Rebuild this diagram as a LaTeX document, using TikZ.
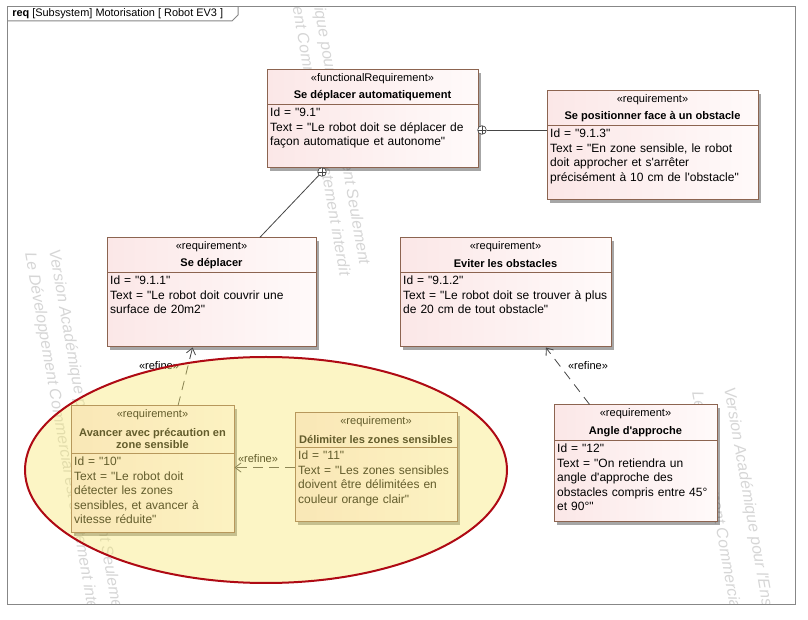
\documentclass[tikz,border=0pt]{standalone}
\usepackage{fontspec}
\setmainfont{Liberation Sans}[Ligatures=TeXOff]
\usetikzlibrary{shadows,arrows.meta,calc}
\definecolor{reqborder}{RGB}{140,100,80}
\definecolor{reqa}{RGB}{251,231,231}
\definecolor{reqb}{RGB}{255,250,250}
\definecolor{ellred}{RGB}{175,10,20}
\definecolor{ellfill}{RGB}{248,232,110}
\definecolor{wmark}{RGB}{214,214,214}
\definecolor{framegray}{RGB}{135,135,135}
\definecolor{linegray}{RGB}{70,70,70}
\tikzset{
 reqbox/.style={draw=reqborder, line width=0.75pt, left color=reqa, right color=reqb,
   drop shadow={shadow xshift=2.2pt, shadow yshift=-2.2pt, fill=black, opacity=0.35}, inner sep=0pt},
 stereo/.style={font=\fontsize{8.3}{9.5}\selectfont, inner sep=0pt},
 reqtitle/.style={font=\bfseries\fontsize{8.3}{9}\selectfont, inner sep=0pt, align=center},
 reqbody/.style={font=\fontsize{9}{10.9}\selectfont, anchor=north west, align=left, inner xsep=2.2pt, inner ysep=2pt},
 contain/.style={circle, draw=linegray, fill=white, line width=0.5pt, minimum size=6.5pt, inner sep=0pt,
   path picture={\draw[linegray, line width=0.5pt] (path picture bounding box.north) -- (path picture bounding box.south) (path picture bounding box.west) -- (path picture bounding box.east);}},
 assoc/.style={draw=linegray, line width=0.6pt},
 refine/.style={draw=linegray, line width=0.6pt, dash pattern=on 7pt off 5pt, -{Straight Barb[length=4.5pt,width=7pt]}},
 lbl/.style={font=\fontsize{8.3}{9.5}\selectfont, inner sep=0pt},
 wm/.style={font=\itshape\fontsize{12}{14}\selectfont, text=wmark, rotate=-80, inner sep=0pt, anchor=base west},
 frame/.style={draw=framegray, line width=0.75pt},
 ellzone/.style={draw=ellred, line width=1.5pt, fill=ellfill, fill opacity=0.4},
}
\newcommand{\reqbox}[9]{%
 \node[reqbox, minimum width={(#4-#2)*0.75pt}, minimum height={(#5-#3)*0.75pt}] (#1) at ({(#2+#4)/2},{(#3+#5)/2}) {};
 \draw[reqborder, line width=0.75pt] (#2,#6) -- (#4,#6);
 \node[stereo] (#1-s) at ({(#2+#4)/2},{#3+9}) {«#7»};
 \node[reqtitle] (#1-t) at ({(#2+#4)/2},{(#3+17+#6)/2}) {#8};
 \node[reqbody, text width={(#4-#2-6)*0.75pt}] (#1-b) at (#2,#6) {#9};
}
\begin{document}
\begin{tikzpicture}[x=0.75pt,y=-0.75pt]
\useasboundingbox (0,0) rectangle (808,620);
\fill[white] (0,0) rectangle (808,620);
% watermark
\begin{scope}
\clip (7,7) rectangle (795,605);
\node[wm] (w1) at (49,250) {Version Académique pour l'Enseignement Seulement};
\node[wm] (w2) at (25,253) {Le Développement Commercial est strictement interdit};
\node[wm] (w3) at (724,388) {Version Académique pour l'Enseignement Seulement};
\node[wm] (w4) at (692,392) {Le Développement Commercial est strictement interdit};
\node[wm] (w5) at (294,-107) {Version Académique pour l'Enseignement Seulement};
\node[wm] (w6) at (273,-103) {Le Développement Commercial est strictement interdit};
\end{scope}
% frame
\draw[frame] (7,7) rectangle (795,605);
\draw[frame] (7,21) -- (232,21) -- (238,15) -- (238,7);
\node[anchor=west, inner sep=0pt, font=\fontsize{8.2}{10}\selectfont] (hdr) at (12,14) {\textbf{req} [Subsystem] Motorisation [ Robot EV3 ]};
% boxes
\reqbox{b1}{267}{70}{478}{168}{105}{functionalRequirement}{Se déplacer automatiquement}{Id = "9.1"\\Text = "Le robot doit se déplacer de\\façon automatique et autonome"}
\reqbox{b2}{547}{91}{758}{200}{126}{requirement}{Se positionner face à un obstacle}{Id = "9.1.3"\\Text = "En zone sensible, le robot\\doit approcher et s'arrêter\\précisément à 10 cm de l'obstacle"}
\reqbox{b3}{107}{238}{316}{347}{273}{requirement}{Se déplacer}{Id = "9.1.1"\\Text = "Le robot doit couvrir une\\surface de 20m2"}
\reqbox{b4}{400}{238}{611}{347}{273}{requirement}{Eviter les obstacles}{Id = "9.1.2"\\Text = "Le robot doit se trouver à plus\\de 20 cm de tout obstacle"}
\reqbox{b5}{71}{406}{234}{533}{454}{requirement}{Avancer avec précaution en\\zone sensible}{Id = "10"\\Text = "Le robot doit\\détecter les zones\\sensibles, et avancer à\\vitesse réduite"}
\reqbox{b6}{295}{413}{457}{522}{448}{requirement}{Délimiter les zones sensibles}{Id = "11"\\Text = "Les zones sensibles\\doivent être délimitées en\\couleur orange clair"}
\reqbox{b7}{554}{405}{717}{522}{441}{requirement}{Angle d'approche}{Id = "12"\\Text = "On retiendra un\\angle d'approche des\\obstacles compris entre 45°\\et 90°"}
% containment
\node[contain] (k1) at (482,130) {};
\node[contain] (k2) at (322,172) {};
\draw[assoc] (k1) -- (k1 -| b2.west);
\draw[assoc] (k2) -- ($(b3.north west)!0.73!(b3.north east)$);
% refine
\draw[refine] ($(b5.north west)!0.656!(b5.north east)$) -- ($(b3.south west)!0.41!(b3.south east)$);
\node[lbl] (r1) at (159,366) {«refine»};
\draw[refine] (b6.west) -- (b6.west -| b5.east);
\node[lbl] (r2) at (258,459) {«refine»};
\draw[refine] ($(b7.north west)!0.22!(b7.north east)$) -- ($(b4.south west)!0.69!(b4.south east)$);
\node[lbl] (r3) at (588,366) {«refine»};
% zone ellipse
\draw[ellzone] (266,470) ellipse [x radius=180.75pt, y radius=84.75pt];
\end{tikzpicture}
\end{document}
